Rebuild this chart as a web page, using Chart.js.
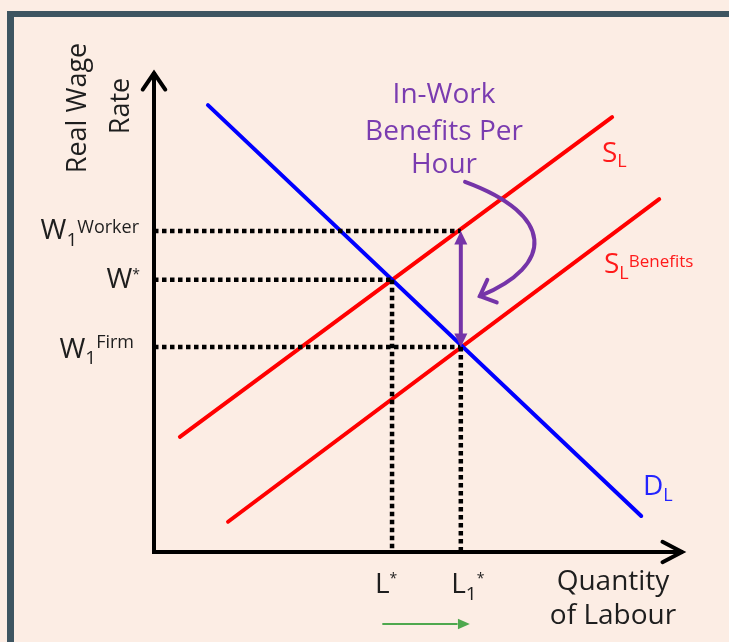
<!DOCTYPE html>
<html>
<head>
<meta charset="utf-8">
<script src="https://cdn.jsdelivr.net/npm/chart.js"></script>
<style>
  html, body { margin: 0; padding: 0; background: #fcede4; }
  #wrap { position: relative; width: 729px; height: 642px; overflow: hidden; }
  #frame { position: absolute; left: 7px; top: 11px; width: 760px; height: 700px;
           border-left: 7px solid #3e5561; border-top: 6px solid #3e5561; }
  canvas { position: absolute; left: 0; top: 0; }
</style>
</head>
<body>
<div id="wrap">
  <div id="frame"></div>
  <canvas id="grafico" width="729" height="642"></canvas>
</div>
<script>
// curvas (unidades del grafico: cantidad 0-10, salario 0-10)
const demandaX = [1.02, 9.21]
const demandaY = [9.31, 0.75]
const ofertaX = [0.49, 8.66]
const ofertaY = [2.40, 9.06]
const ofertaBenefX = [1.40, 9.55]
const ofertaBenefY = [0.63, 7.35]

// equilibrios
const lEstrella = 4.50
const l1Estrella = 5.80
const wEstrella = 5.67
const wTrabajador = 6.69
const wEmpresa = 4.27

// flecha curva (puntos bezier)
const curvaX = [5.88, 7.58, 7.58, 6.16]
const curvaY = [7.71, 7.02, 5.98, 5.33]

const fuente = "'Open Sans', Lato, sans-serif"

function puntos(xs, ys) {
    return xs.map((x, i) => ({ x: x, y: ys[i] }))
}

function linea(data, color, ancho, dash) {
    return {
        data: data,
        showLine: true,
        borderColor: color,
        borderWidth: ancho,
        borderDash: dash || [],
        borderCapStyle: dash ? 'butt' : 'round',
        pointRadius: 0,
        clip: false
    }
}

// texto con subindices / superindices: partes = [texto, tamaño, dy]
function textoRico(ctx, x, y, partes, align, color) {
    ctx.fillStyle = color
    ctx.textBaseline = 'alphabetic'
    ctx.textAlign = 'left'
    let total = 0
    partes.forEach(p => {
        ctx.font = p[1] + 'px ' + fuente
        total += ctx.measureText(p[0]).width
    })
    let cx = x
    if (align === 'right') cx = x - total
    if (align === 'center') cx = x - total / 2
    partes.forEach(p => {
        ctx.font = p[1] + 'px ' + fuente
        ctx.fillText(p[0], cx, y + p[2])
        cx += ctx.measureText(p[0]).width
    })
}

function punta(ctx, x, y, ang, largo, abre, relleno) {
    ctx.beginPath()
    ctx.moveTo(x + largo * Math.cos(ang + abre), y + largo * Math.sin(ang + abre))
    ctx.lineTo(x, y)
    ctx.lineTo(x + largo * Math.cos(ang - abre), y + largo * Math.sin(ang - abre))
    if (relleno) { ctx.closePath(); ctx.fill() } else ctx.stroke()
}

const dibujos = {
    id: 'dibujos',
    afterDatasetsDraw(chart) {
        const ctx = chart.ctx
        const sx = chart.scales.x
        const sy = chart.scales.y
        const px = v => sx.getPixelForValue(v)
        const py = v => sy.getPixelForValue(v)
        ctx.save()

        // ejes con flechas
        ctx.strokeStyle = '#000'
        ctx.lineWidth = 4
        ctx.lineCap = 'butt'
        ctx.beginPath()
        ctx.moveTo(px(0), py(10))
        ctx.lineTo(px(0), py(0))
        ctx.lineTo(px(10), py(0))
        ctx.stroke()
        ctx.lineCap = 'round'
        ctx.lineJoin = 'miter'
        punta(ctx, px(0), py(10) + 1, Math.PI / 2, 20, 0.6, false)
        punta(ctx, px(10) - 1, py(0), Math.PI, 22, 0.48, false)

        // flecha doble morada
        const morado = '#7534a8'
        ctx.strokeStyle = morado
        ctx.fillStyle = morado
        ctx.lineWidth = 4
        ctx.lineCap = 'butt'
        ctx.beginPath()
        ctx.moveTo(px(l1Estrella), py(wTrabajador) + 12)
        ctx.lineTo(px(l1Estrella), py(wEmpresa) - 12)
        ctx.stroke()
        punta(ctx, px(l1Estrella), py(wTrabajador), Math.PI / 2, 15, 0.45, true)
        punta(ctx, px(l1Estrella), py(wEmpresa), -Math.PI / 2, 15, 0.45, true)

        // flecha curva
        const c = curvaX.map((x, i) => [px(x), py(curvaY[i])])
        ctx.lineCap = 'round'
        ctx.beginPath()
        ctx.moveTo(c[0][0], c[0][1])
        ctx.bezierCurveTo(c[1][0], c[1][1], c[2][0], c[2][1], c[3][0], c[3][1])
        ctx.stroke()
        const ang = Math.atan2(c[2][1] - c[3][1], c[2][0] - c[3][0])
        punta(ctx, c[3][0], c[3][1], ang, 18, 0.75, false)

        // flecha verde
        ctx.strokeStyle = '#4ea84e'
        ctx.fillStyle = '#4ea84e'
        ctx.lineWidth = 2
        const gy = py(0) + 72
        ctx.beginPath()
        ctx.moveTo(px(lEstrella) - 9, gy)
        ctx.lineTo(px(l1Estrella) - 4, gy)
        ctx.stroke()
        punta(ctx, px(l1Estrella) + 9, gy, Math.PI, 13, 0.42, true)

        // etiquetas eje Y
        const negro = '#1e1e1e'
        textoRico(ctx, 139, py(wTrabajador) + 8, [['W', 28, 0], ['1', 19, 7], ['Worker', 18, -6]], 'right', negro)
        textoRico(ctx, 140, py(wEstrella) + 8, [['W', 28, 0], ['*', 14, -9]], 'right', negro)
        textoRico(ctx, 134, py(wEmpresa) + 11, [['W', 28, 0], ['1', 19, 6], ['Firm', 18, -10]], 'right', negro)

        // etiquetas eje X
        textoRico(ctx, px(lEstrella) - 6, 593, [['L', 28, 0], ['*', 14, -10]], 'center', negro)
        textoRico(ctx, px(l1Estrella) + 7, 593, [['L', 28, 0], ['1', 19, 7], ['*', 14, -10]], 'center', negro)
        textoRico(ctx, 613, 590, [['Quantity', 28, 0]], 'center', negro)
        textoRico(ctx, 613, 624, [['of Labour', 28, 0]], 'center', negro)

        // titulo eje Y (rotado)
        ctx.save()
        ctx.translate(86, 108)
        ctx.rotate(-Math.PI / 2)
        textoRico(ctx, 0, 0, [['Real Wage', 27, 0]], 'center', negro)
        ctx.restore()
        ctx.save()
        ctx.translate(129, 106)
        ctx.rotate(-Math.PI / 2)
        textoRico(ctx, 0, 0, [['Rate', 27, 0]], 'center', negro)
        ctx.restore()

        // etiquetas de curvas
        textoRico(ctx, 602, 162, [['S', 28, 0], ['L', 18, 5]], 'left', '#ff1a1a')
        textoRico(ctx, 604, 273, [['S', 28, 0], ['L', 18, 6], ['Benefits', 17, -6]], 'left', '#ff1a1a')
        textoRico(ctx, 643, 495, [['D', 28, 0], ['L', 18, 6]], 'left', '#2424ff')

        // texto morado
        textoRico(ctx, 444, 103, [['In-Work', 28, 0]], 'center', '#7a3cb0')
        textoRico(ctx, 444, 140, [['Benefits Per', 28, 0]], 'center', '#7a3cb0')
        textoRico(ctx, 444, 173, [['Hour', 28, 0]], 'center', '#7a3cb0')

        ctx.restore()
    }
}

const punteado = [4.5, 3.5]

new Chart(document.getElementById('grafico'), {
    type: 'scatter',
    data: {
        datasets: [
            linea(puntos([0, l1Estrella], [wTrabajador, wTrabajador]), '#000', 4.5, punteado),
            linea(puntos([0, lEstrella], [wEstrella, wEstrella]), '#000', 4.5, punteado),
            linea(puntos([0, l1Estrella], [wEmpresa, wEmpresa]), '#000', 4.5, punteado),
            linea(puntos([lEstrella, lEstrella], [wEstrella, 0]), '#000', 4.5, punteado),
            linea(puntos([l1Estrella, l1Estrella], [wEmpresa, 0]), '#000', 4.5, punteado),
            linea(puntos(demandaX, demandaY), '#0000ff', 4),
            linea(puntos(ofertaX, ofertaY), '#ff0000', 4),
            linea(puntos(ofertaBenefX, ofertaBenefY), '#ff0000', 4)
        ]
    },
    options: {
        responsive: false,
        animation: false,
        layout: { padding: { left: 154, right: 46, top: 72, bottom: 90 } },
        plugins: { legend: { display: false }, tooltip: { enabled: false } },
        scales: {
            x: { type: 'linear', min: 0, max: 10, display: false },
            y: { type: 'linear', min: 0, max: 10, display: false }
        }
    },
    plugins: [dibujos]
})
</script>
</body>
</html>
